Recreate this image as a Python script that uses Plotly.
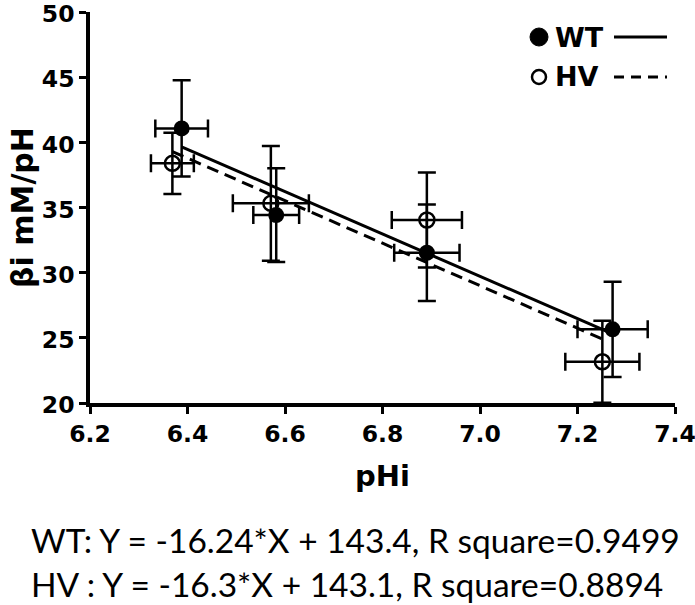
import plotly.graph_objects as go

# ---- data ----
wt_x = [6.388, 6.582, 6.891, 7.272]
wt_y = [41.07, 34.42, 31.53, 25.65]
wt_xerr = [0.054, 0.047, 0.067, 0.072]
wt_yerr = [3.7, 3.6, 3.7, 3.65]

hv_x = [6.369, 6.571, 6.891, 7.251]
hv_y = [38.39, 35.32, 34.04, 23.16]
hv_xerr = [0.044, 0.078, 0.072, 0.076]
hv_yerr = [2.35, 4.4, 3.65, 3.15]

# regression fits reported under the chart
wt_slope, wt_intercept, wt_r2 = -16.24, 143.4, 0.9499
hv_slope, hv_intercept, hv_r2 = -16.3, 143.1, 0.8894

x_ticks = [6.2, 6.4, 6.6, 6.8, 7.0, 7.2, 7.4]
x_tick_labels = ["6.2", "6.4", "6.6", "6.8", "7.0", "7.2", "7.4"]
y_ticks = [20, 25, 30, 35, 40, 45, 50]

# ---- layout geometry ----
W, H = 695, 605
ML, MR, MT, MB = 90, 20, 12, 202
PW, PH = W - ML - MR, H - MT - MB


def px2x(px):
    return (px - ML) / PW


def px2y(py):
    return (H - MB - py) / PH


AX_FONT = "DejaVu Sans, Arial, sans-serif"

fig = go.Figure()


def fit_line(xs, slope, intercept):
    x0, x1 = min(xs), max(xs)
    return [x0, x1], [slope * x0 + intercept, slope * x1 + intercept]


# regression lines
lx, ly = fit_line(wt_x, wt_slope, wt_intercept)
fig.add_trace(go.Scatter(x=lx, y=ly, mode="lines", line=dict(color="black", width=3),
                         showlegend=False, hoverinfo="skip"))
lx, ly = fit_line(hv_x, hv_slope, hv_intercept)
fig.add_trace(go.Scatter(x=lx, y=ly, mode="lines",
                         line=dict(color="black", width=3, dash="12px,7px"),
                         showlegend=False, hoverinfo="skip"))

# HV points (open circles)
fig.add_trace(go.Scatter(
    x=hv_x, y=hv_y, mode="markers", name="HV",
    marker=dict(symbol="circle-open", size=15, color="black", line=dict(width=2.5, color="black")),
    error_x=dict(type="data", array=hv_xerr, color="black", thickness=2.5, width=9),
    error_y=dict(type="data", array=hv_yerr, color="black", thickness=2.5, width=9),
    showlegend=False,
))
# WT points (filled circles)
fig.add_trace(go.Scatter(
    x=wt_x, y=wt_y, mode="markers", name="WT",
    marker=dict(symbol="circle", size=16, color="black"),
    error_x=dict(type="data", array=wt_xerr, color="black", thickness=2.5, width=9),
    error_y=dict(type="data", array=wt_yerr, color="black", thickness=2.5, width=9),
    showlegend=False,
))

# ---- custom legend (marker, label, line sample) ----
shapes = []
leg_rows = [("WT", 37, "circle_filled", "solid"), ("HV", 77, "circle_open", "dash")]
annotations = []
for label, py, sym, dash in leg_rows:
    cx = px2x(539)
    cy = px2y(py)
    if sym == "circle_filled":
        shapes.append(dict(type="circle", xref="paper", yref="paper", xsizemode="pixel", ysizemode="pixel",
                           xanchor=cx, yanchor=cy, x0=-9, x1=9, y0=-9, y1=9,
                           fillcolor="black", line=dict(color="black", width=1)))
    else:
        shapes.append(dict(type="circle", xref="paper", yref="paper", xsizemode="pixel", ysizemode="pixel",
                           xanchor=cx, yanchor=cy, x0=-7, x1=7, y0=-7, y1=7,
                           fillcolor="white", line=dict(color="black", width=2.5)))
    annotations.append(dict(text="<b>%s</b>" % label, xref="paper", yref="paper",
                            x=px2x(553), y=cy, xanchor="left", yanchor="middle", showarrow=False,
                            font=dict(family=AX_FONT, size=27, color="black")))
    shapes.append(dict(type="line", xref="paper", yref="paper",
                       x0=px2x(614), x1=px2x(667), y0=cy, y1=cy,
                       line=dict(color="black", width=3, dash="10px,7px" if dash == "dash" else "solid")))

# equations below the chart
eq_font = dict(family="Lato, Carlito, Calibri, sans-serif", size=33.5, color="black")
annotations.append(dict(text="WT: Y = %s*X + %s, R square=%s" % (wt_slope, wt_intercept, wt_r2),
                        xref="paper", yref="paper", x=px2x(29), y=px2y(540),
                        xanchor="left", yanchor="middle", showarrow=False, font=eq_font))
annotations.append(dict(text="HV : Y = %s*X + %s, R square=%s" % (hv_slope, hv_intercept, hv_r2),
                        xref="paper", yref="paper", x=px2x(29), y=px2y(584),
                        xanchor="left", yanchor="middle", showarrow=False, font=eq_font))

fig.update_layout(
    width=W, height=H,
    margin=dict(l=ML, r=MR, t=MT, b=MB, pad=0, autoexpand=False),
    paper_bgcolor="white", plot_bgcolor="white",
    shapes=shapes, annotations=annotations,
    showlegend=False,
    xaxis=dict(range=[6.2, 7.4], tickvals=x_ticks, ticktext=x_tick_labels, automargin=False,
               ticklabeloverflow="allow",
               showgrid=False, zeroline=False, showline=True, linecolor="black", linewidth=3.5,
               ticks="outside", ticklen=7, tickwidth=3, tickcolor="black",
               tickfont=dict(family=AX_FONT, size=23.5, color="black", weight="bold"),
               title=dict(text="<b>pHi</b>", font=dict(family=AX_FONT, size=29, color="black"), standoff=20)),
    yaxis=dict(range=[20, 50], tickvals=y_ticks, automargin=False,
               ticklabeloverflow="allow", ticklabelshift=2,
               showgrid=False, zeroline=False, showline=True, linecolor="black", linewidth=3.5,
               ticks="outside", ticklen=7, tickwidth=3, tickcolor="black",
               tickfont=dict(family=AX_FONT, size=23.5, color="black", weight="bold"),
               title=dict(text="<b>βi mM/pH</b>", font=dict(family=AX_FONT, size=30, color="black"), standoff=0)),
)

fig.write_html("out.html", config={"displayModeBar": False},
               post_script="document.body.style.margin='0';")
